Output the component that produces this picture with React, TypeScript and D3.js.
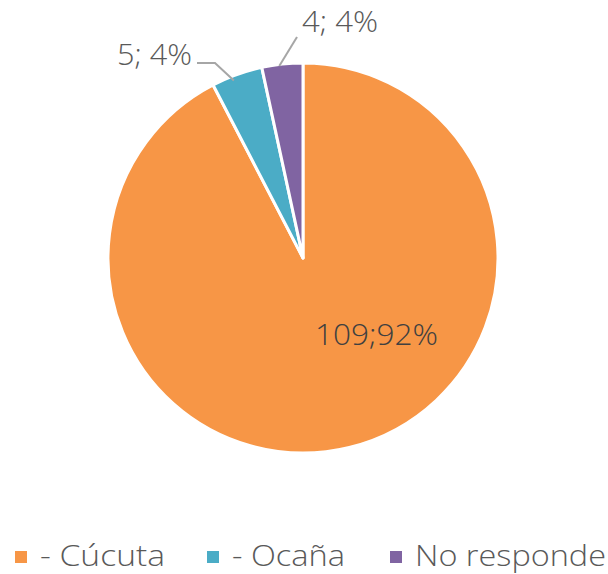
import React from "react";
import * as d3 from "d3";

const categories = ["- Cúcuta", "- Ocaña", "No responde"];
const values = [109, 5, 4];
const percentLabels = ["92%", "4%", "4%"];
const colors = ["#F79646", "#4BACC6", "#8064A2"];

const W = 608;
const H = 574;
const cx = 303;
const cy = 258;
const R = 195;
const font = "'Open Sans', 'DejaVu Sans', sans-serif";
const textColor = "#595959";

export default function App() {
  const pie = d3.pie<number>().sort(null).value((d) => d)(values);
  const arc = d3.arc<d3.PieArcDatum<number>>().innerRadius(0).outerRadius(R);
  const outer = d3.arc<d3.PieArcDatum<number>>().innerRadius(R).outerRadius(R);

  // label layout
  const labelPos = [
    { x: 315, y: 345, len: 123, sep: ";" },
    { x: 117, y: 65, len: 75, sep: "; " },
    { x: 302, y: 32, len: 76, sep: "; " },
  ];

  const legendSq = [15, 207, 390];
  const legendTx = [40, 232, 415];
  const legendLen = [125, 113, 191];

  const c1 = outer.centroid(pie[1]);
  const c2 = outer.centroid(pie[2]);

  return (
    <svg width={W} height={H} style={{ position: "absolute", left: 0, top: 0, background: "#fff" }}>
      <g transform={`translate(${cx},${cy})`}>
        {pie.map((p, i) => (
          <path key={i} d={arc(p) || ""} fill={colors[i]} stroke="#fff" strokeWidth={3} strokeLinejoin="round" />
        ))}
      </g>
      <g stroke="#A6A6A6" strokeWidth={2} fill="none">
        <polyline points={`197,63 215,63 ${cx + c1[0] - 3},${cy + c1[1] + 6}`} />
        <polyline points={`297,37 ${cx + c2[0] - 3},${cy + c2[1] + 2}`} />
      </g>
      {pie.map((p, i) => (
        <text
          key={i}
          x={labelPos[i].x}
          y={labelPos[i].y}
          fontFamily={font}
          fontSize={29}
          fontWeight={300}
          textLength={labelPos[i].len}
          lengthAdjust="spacingAndGlyphs"
          fill={i === 0 ? "#404040" : textColor}
        >
          {`${values[i]}${labelPos[i].sep}${percentLabels[i]}`}
        </text>
      ))}
      {categories.map((c, i) => (
        <g key={c}>
          <rect x={legendSq[i]} y={551} width={12} height={12} fill={colors[i]} />
          <text
            x={legendTx[i]}
            y={566}
            fontFamily={font}
            fontSize={29}
            fontWeight={300}
            textLength={legendLen[i]}
            lengthAdjust="spacingAndGlyphs"
            fill={textColor}
          >
            {c}
          </text>
        </g>
      ))}
    </svg>
  );
}
